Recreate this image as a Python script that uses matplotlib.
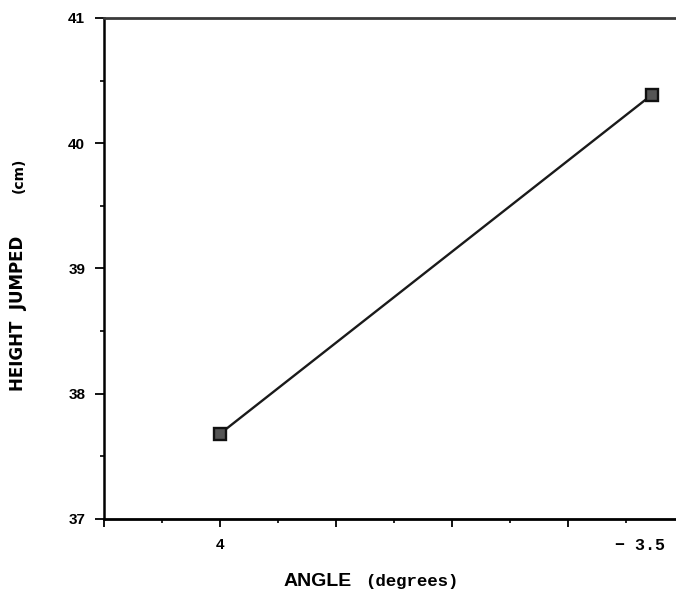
import matplotlib
matplotlib.use("Agg")
import matplotlib.pyplot as plt
from matplotlib.ticker import MultipleLocator

# data
angle_labels = ["4", "\u2212 3.5"]
angle_pos = [1.0, 4.72]          # position along the (unlabelled) x scale
height_jumped = [37.68, 40.385]  # cm

y_ticks = [37, 38, 39, 40, 41]

fig = plt.figure(figsize=(6.76, 5.94), dpi=100)
ax = fig.add_axes([0.1538, 0.1263, 0.8462, 0.8434])

ax.plot(angle_pos, height_jumped, color="#1a1a1a", linewidth=1.7,
        marker="s", markersize=8, markerfacecolor="#555555",
        markeredgecolor="#111111", markeredgewidth=1.7)

ax.set_xlim(0, 4.931)
ax.set_ylim(37, 41)

# y axis
ax.set_yticks(y_ticks)
ax.set_yticklabels([str(v) for v in y_ticks], fontweight="bold", fontsize=11,
                   family="Liberation Sans")
ax.yaxis.set_minor_locator(MultipleLocator(0.5))
ax.tick_params(axis="y", which="major", direction="out", length=6.5, width=1.3, pad=7)
ax.tick_params(axis="y", which="minor", direction="out", length=3, width=1.2)

# x axis: plain ticks, labels placed under the data points
ax.xaxis.set_major_locator(MultipleLocator(1))
ax.xaxis.set_minor_locator(MultipleLocator(0.5))
ax.set_xticklabels([])
ax.tick_params(axis="x", which="major", direction="out", length=6, width=1.3)
ax.tick_params(axis="x", which="minor", direction="out", length=3, width=1.2)

ax.text(angle_pos[0], 36.85, angle_labels[0], ha="center", va="top",
        fontsize=11, fontweight="bold", family="Liberation Sans")
ax.text(angle_pos[1] - 0.1, 36.85, angle_labels[1], ha="center", va="top",
        fontsize=12, fontweight="bold", family="Liberation Mono")

ax.spines["right"].set_visible(False)
ax.spines["left"].set_linewidth(1.8)
ax.spines["bottom"].set_linewidth(2.0)
ax.spines["top"].set_linewidth(2.0)
ax.spines["top"].set_color("#3a3a3a")

# axis titles
fig.text(0.027, 0.473, "HEIGHT  JUMPED", rotation=90, ha="center", va="center",
         fontsize=12, fontweight="bold")
fig.text(0.027, 0.705, "(cm)", rotation=90, ha="center", va="center",
         fontsize=10, fontweight="bold")
fig.text(0.5207, 0.014, "ANGLE", ha="right", va="baseline", fontsize=14,
         fontweight="bold", family="Liberation Sans")
fig.text(0.540, 0.014, "(degrees)", ha="left", va="baseline", fontsize=12.5,
         fontweight="bold", family="Liberation Mono")

fig.savefig("out.png", dpi=100)
